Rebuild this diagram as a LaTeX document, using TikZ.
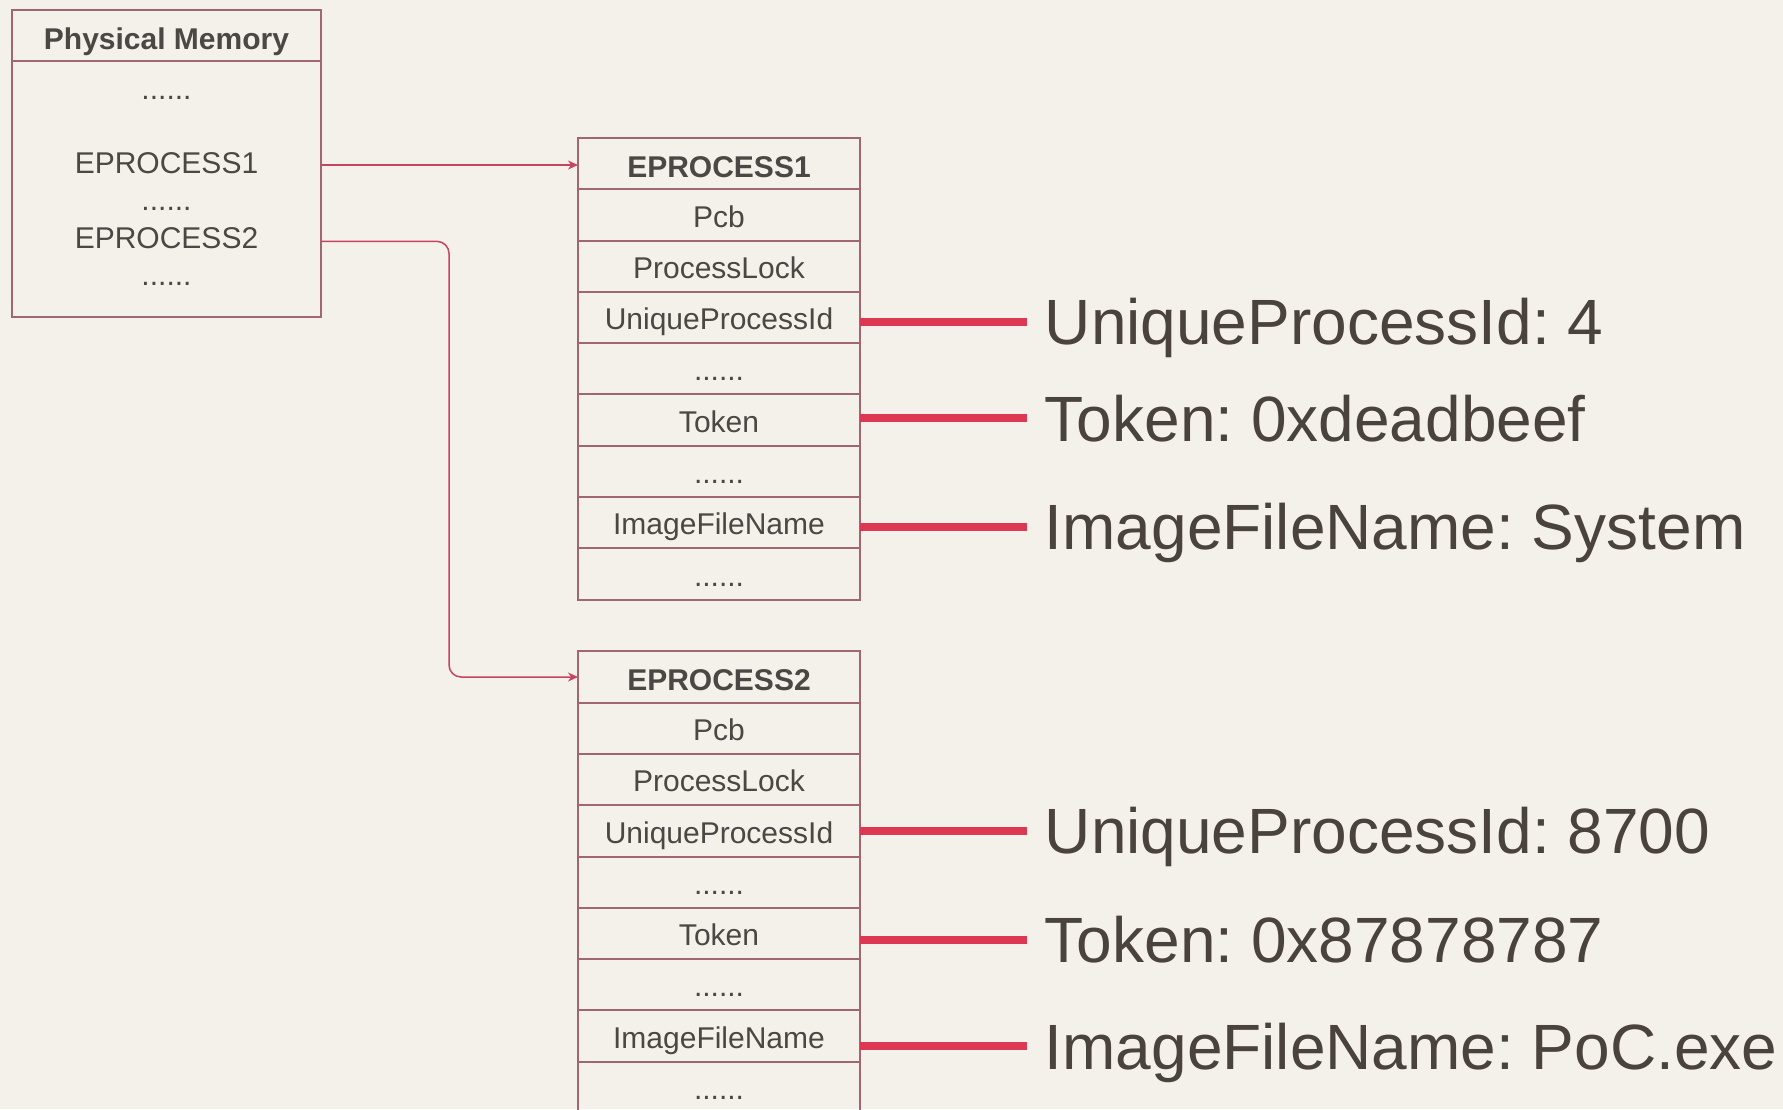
\documentclass[tikz,border=0pt]{standalone}
\usepackage{fontspec}
\setmainfont{Liberation Sans}
\usetikzlibrary{positioning, arrows.meta}
\frenchspacing

\definecolor{paper}{HTML}{F4F1EA}
\definecolor{boxline}{HTML}{A26672}
\definecolor{linkred}{HTML}{C8435E}
\definecolor{barred}{HTML}{DC3753}
\definecolor{ink}{HTML}{4A4744}
\definecolor{bigink}{HTML}{4A423C}

\newcommand{\skipped}{......}

\tikzset{
    field/.style={draw=boxline, line width=1pt, minimum width=141pt, minimum height=25.65pt,
        inner sep=0pt, outer sep=0pt, text=ink, font=\fontsize{15}{18}\selectfont,
        text height=12.1pt, text depth=0pt},
    title/.style={field, font=\fontsize{15}{18}\selectfont\bfseries, text height=13.8pt},
    entry/.style={text=ink, font=\fontsize{15}{18}\selectfont, inner sep=0pt, anchor=base},
    fact/.style={text=bigink, font=\fontsize{32}{38}\selectfont, anchor=west,
        inner xsep=8.7pt, inner ysep=0pt, text height=23pt, text depth=0pt},
    link/.style={draw=linkred, line width=0.75pt, -{Stealth[length=5pt, width=4.5pt]}},
    bar/.style={draw=barred, line width=4pt},
}

% one EPROCESS structure: name, y of header, title
\newcommand{\eprocess}[3]{%
    \node[title] (#1-0) at (719,#2) {#3};
    \foreach \txt [count=\i, remember=\i as \j (initially 0)] in
        {Pcb, ProcessLock, UniqueProcessId, \skipped, Token, \skipped, ImageFileName, \skipped}
        \node[field, below=0pt of #1-\j] (#1-\i) {\txt};
}

\begin{document}
\begin{tikzpicture}[x=0.5pt, y=-0.5pt]
    \fill[paper] (0,0) rectangle (1783,1109);
    \useasboundingbox (0,0) rectangle (1783,1109);
    \begin{scope}
    \clip (0,0) rectangle (1783,1109);

    % physical memory
    \node[title, minimum width=154.5pt, minimum height=25.75pt]
        (pmh) at (166.5,35.25) {Physical Memory};
    \node[field, minimum width=154.5pt, minimum height=128pt, below=0pt of pmh] (pm) {};
    \node[entry] (pm1) at (166.5,99) {\skipped};
    \node[entry] (pm2) at (166.5,173) {EPROCESS1};
    \node[entry] (pm3) at (166.5,210) {\skipped};
    \node[entry] (pm4) at (166.5,248) {EPROCESS2};
    \node[entry] (pm5) at (166.5,285) {\skipped};

    % the two process blocks
    \eprocess{e1}{163.6}{EPROCESS1}
    \eprocess{e2}{677}{EPROCESS2}

    % field values
    \node[fact, right=83.5pt of e1-3, yshift=-2pt] (e1-pid) {UniqueProcessId: 4};
    \node[fact, right=83.5pt of e1-5, yshift=1pt] (e1-tok) {Token: 0xdeadbeef};
    \node[fact, right=83.5pt of e1-7, yshift=-2pt] (e1-img) {ImageFileName: System};
    \node[fact, right=83.5pt of e2-3] (e2-pid) {UniqueProcessId: 8700};
    \node[fact, right=83.5pt of e2-5, yshift=-3pt] (e2-tok) {Token: 0x87878787};
    \node[fact, right=83.5pt of e2-7, yshift=-5pt] (e2-img) {ImageFileName: PoC.exe};
    \foreach \f/\r in {pid/3, tok/5, img/7}{
        \draw[bar] (e1-\r.east |- e1-\f) -- (e1-\f.west);
        \draw[bar] (e2-\r.east |- e2-\f) -- (e2-\f.west);
    }

    % pointers
    \coordinate (in1) at ([yshift=-0.7pt]e1-0.west);
    \coordinate (out2) at ([yshift=-1.85pt]pm4.center);
    \coordinate (turn) at (449,0);
    \draw[link] (pm.east |- in1) -- (in1);
    \draw[link, rounded corners=6pt] (pm.east |- out2) -| (turn |- e2-0) -- (e2-0.west);
    \end{scope}
\end{tikzpicture}
\end{document}
